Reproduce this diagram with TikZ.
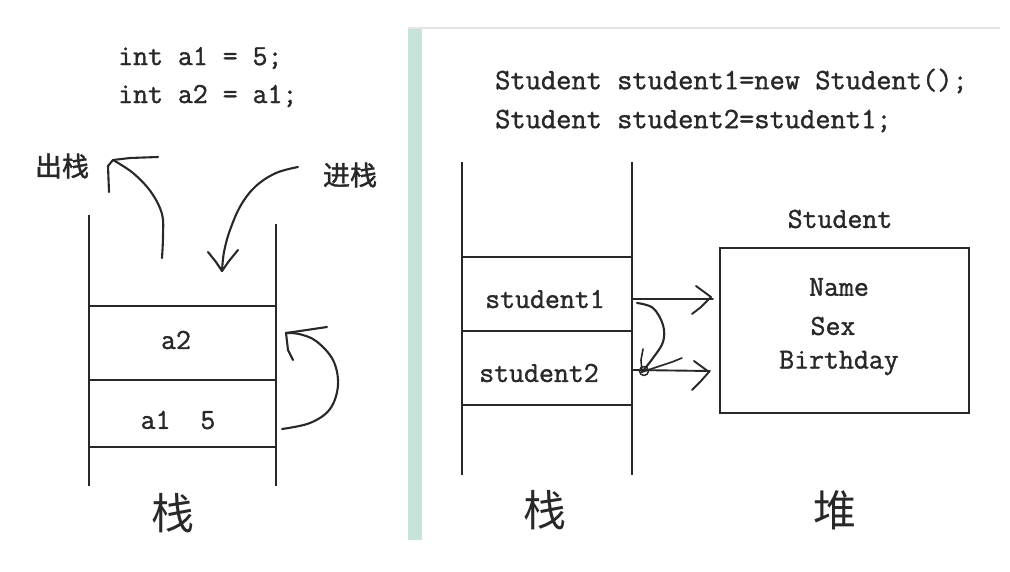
\documentclass[tikz,border=0pt]{standalone}
\usepackage{fontspec}
\newfontfamily\cjk{Noto Sans CJK SC}
\newfontfamily\cjkb{Noto Sans CJK SC}[FakeBold=1.5]
\newfontfamily\codefont{Latin Modern Mono}[FakeBold=1.3]
\definecolor{ink}{RGB}{40,40,40}
\definecolor{txt}{RGB}{40,40,40}
\definecolor{bar}{RGB}{200,228,218}
\definecolor{rule}{RGB}{228,228,228}
\tikzset{
  stk/.style={draw=ink, line width=1.9pt},
  hand/.style={draw=ink, line width=2.1pt, line cap=round, line join=round},
  code/.style={font=\codefont\fontsize{29}{32}\selectfont, text=txt, inner sep=0pt, anchor=west},
  lbl/.style={font=\codefont\fontsize{29}{32}\selectfont, text=txt, inner sep=0pt},
  zh/.style={font=\cjkb\fontsize{27}{29}\selectfont, text=txt, inner sep=0pt},
  bigzh/.style={font=\cjk\fontsize{43}{45}\selectfont, text=txt, inner sep=0pt}
}
\begin{document}
\begin{tikzpicture}[x=1pt,y=-1pt]
\useasboundingbox (0,0) rectangle (1010,572);
\fill[white] (0,0) rectangle (1010,572);
% right panel frame
\fill[bar] (408,28) rectangle (422,540);
\draw[rule, line width=1.5pt] (408,28) -- (1000,28);

% ---------- left: primitive ----------
\node[code] (c1) at (118,58) {int a1 = 5;};
\node[code] (c2) at (118,96) {int a2 = a1;};

\draw[stk] (89,215) -- (89,486);
\draw[stk] (276,224) -- (276,486);
\draw[stk] (89,306) -- (276,306);
\draw[stk] (89,380) -- (276,380);
\draw[stk] (89,447) -- (276,447);
\node[lbl] (a2) at (176,340) {a2};
\node[lbl] (a1) at (178,420) {a1\ \ 5};
\node[bigzh] (zhan1) at (173,513) {栈};

\node[zh] (out) at (62,166) {出栈};
\node[zh] (in) at (350,175) {进栈};

% pop arrow
\coordinate (popS) at (162,258);
\coordinate (popT) at (113,160);
\draw[hand] plot[smooth, tension=0.6] coordinates {(popS) (163,236) (162,214) (151,192) (133,173) (popT)};
\draw[hand] (popT) -- (130,158) -- (158,157);
\draw[hand] (popT) -- (108,166) -- (109,192);

% push arrow
\coordinate (pushS) at (298,167);
\coordinate (pushT) at (222,271);
\draw[hand] plot[smooth, tension=0.6] coordinates {(pushS) (276,173) (256,186) (241,205) (230,230) (224,252) (pushT)};
\draw[hand] (208,252) -- (216,262) -- (pushT) -- (229,261) -- (238,250);

% assignment loop
\coordinate (loopS) at (282,429);
\coordinate (loopT) at (286,333);
\draw[hand] plot[smooth, tension=0.6] coordinates {(loopS) (310,423) (330,409) (338,385) (333,360) (316,341) (299,334) (loopT)};
\draw[hand] (loopT) -- (300,331) -- (327,327);
\draw[hand] (loopT) -- (288,350) -- (293,360);

% ---------- right: reference ----------
\node[code, font=\codefont\fontsize{29.6}{32}\selectfont] (c3) at (495,81) {Student student1=new Student();};
\node[code, font=\codefont\fontsize{29.6}{32}\selectfont] (c4) at (495,121) {Student student2=student1;};

\draw[stk] (462,162) -- (462,475);
\draw[stk] (632,162) -- (632,475);
\draw[stk] (462,257) -- (632,257);
\draw[stk] (462,331) -- (632,331);
\draw[stk] (462,405) -- (632,405);
\node[lbl] (s1) at (545,299) {student1};
\node[lbl] (s2) at (539,373) {student2};
\node[bigzh] (zhan2) at (545,510) {栈};

\node[stk, minimum width=249pt, minimum height=165pt, inner sep=0pt] (heap) at (844.5,330.5) {};
\node[lbl] (cls) at (840,219) {Student};
\node[lbl] (f1) at (839,287) {Name};
\node[lbl] (f2) at (833,326) {Sex};
\node[lbl] (f3) at (839,363) {Birthday};
\node[bigzh] (dui) at (835,510) {堆};

% reference arrows
\coordinate (r1) at (633,299);
\coordinate (h1) at (713,299);
\coordinate (r2) at (633,370);
\coordinate (h2) at (710,371);
\draw[hand, line width=1.9pt] (r1) -- (h1);
\draw[hand, line width=1.9pt] (696,286) -- (711,297) -- (701,307) -- (692,314);
\draw[hand, line width=1.9pt] (r2) -- (h2);
\draw[hand, line width=1.9pt] (694,361) -- (709,372) -- (700,382) -- (692,390);

% copy curve
\coordinate (cpS) at (637,303);
\coordinate (cpT) at (642,372);
\draw[hand] plot[smooth, tension=0.6] coordinates {(cpS) (653,308) (663,325) (663,342) (653,358) (cpT)};
\draw[hand, line width=1.6pt] (cpT) -- (660,366) -- (672,362) -- (682,358);
\draw[hand, line width=1.6pt] (cpT) -- (641,360) -- (643,349);
\draw[hand, line width=1.5pt] (644,371) circle (4.5pt);
\end{tikzpicture}
\end{document}
